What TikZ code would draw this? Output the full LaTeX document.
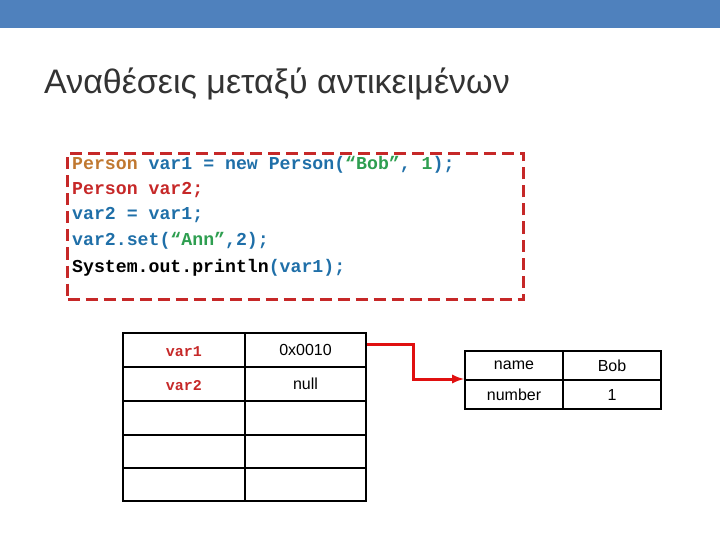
\documentclass[tikz,border=0pt]{standalone}
\usepackage{fontspec}
\setmainfont{Liberation Sans}
\setmonofont{Liberation Mono}
\begin{document}
\begin{tikzpicture}[x=1pt,y=-1pt,
  cell/.style={draw=black,line width=2pt,minimum width=#1,minimum height=34pt,inner sep=0pt,anchor=north west,font=\fontsize{16}{16}\selectfont},
  lbl/.style={font=\fontsize{15}{15}\selectfont\ttfamily\bfseries,text=cred},
  code/.style={font=\fontsize{18.2}{18}\selectfont\ttfamily\bfseries,anchor=west,inner sep=0pt}]
\definecolor{bar}{HTML}{4F81BD}
\definecolor{cred}{HTML}{C62828}
\definecolor{arr}{HTML}{E01010}
\definecolor{cor}{HTML}{C07830}
\definecolor{cbl}{HTML}{1F6FA8}
\definecolor{cgr}{HTML}{2E9E50}
\useasboundingbox (0,0) rectangle (720,540);
\fill[bar] (0,0) rectangle (720,28);
\node[anchor=west,inner sep=0pt,text=black!80,font=\fontsize{34}{34}\selectfont] (title) at (44,84) {Αναθέσεις μεταξύ αντικειμένων};
\node[draw=cred,line width=3pt,dash pattern=on 12pt off 6pt,minimum width=456pt,minimum height=146pt,anchor=north west] (box) at (66,152) {};
\node[code] (l1) at (72,165) {\textcolor{cor}{Person} \textcolor{cbl}{var1 = new Person(}\textcolor{cgr}{“Bob”}\textcolor{cbl}{, }\textcolor{cgr}{1}\textcolor{cbl}{);}};
\node[code,text=cred] (l2) at (72,190) {Person var2;};
\node[code,text=cbl] (l3) at (72,215) {var2 = var1;};
\node[code,text=cbl] (l4) at (72,241) {var2.set(\textcolor{cgr}{“Ann”},2);};
\node[code] (l5) at (72,268) {System.out.println\textcolor{cbl}{(var1);}};
% stack table
\foreach \r/\y/\h in {1/332/34,2/366/34,3/400/34,4/434/33,5/467/33}{
  \node[cell=122pt,minimum height=\h pt] (a\r) at (122,\y) {};
  \node[cell=121pt,minimum height=\h pt] (b\r) at (244,\y) {};
}
\node[lbl] at ([yshift=-2pt]a1.center) {var1};
\node[lbl] at ([yshift=-2pt]a2.center) {var2};
\node[font=\fontsize{16}{16}\selectfont] at (b1.center) {0x0010};
\node[font=\fontsize{16}{16}\selectfont] at (b2.center) {null};
% object
\node[cell=98pt,minimum height=29pt] (c1) at (464,350) {name};
\node[cell=98pt,minimum height=29pt] (d1) at (562,350) {Bob};
\node[cell=98pt,minimum height=29pt] (c2) at (464,379) {number};
\node[cell=98pt,minimum height=29pt] (d2) at (562,379) {1};
\draw[arr,line width=3pt,-latex] ([yshift=-12pt]b1.north east) -| (413,379) -- (c2.north west);
\end{tikzpicture}
\end{document}
